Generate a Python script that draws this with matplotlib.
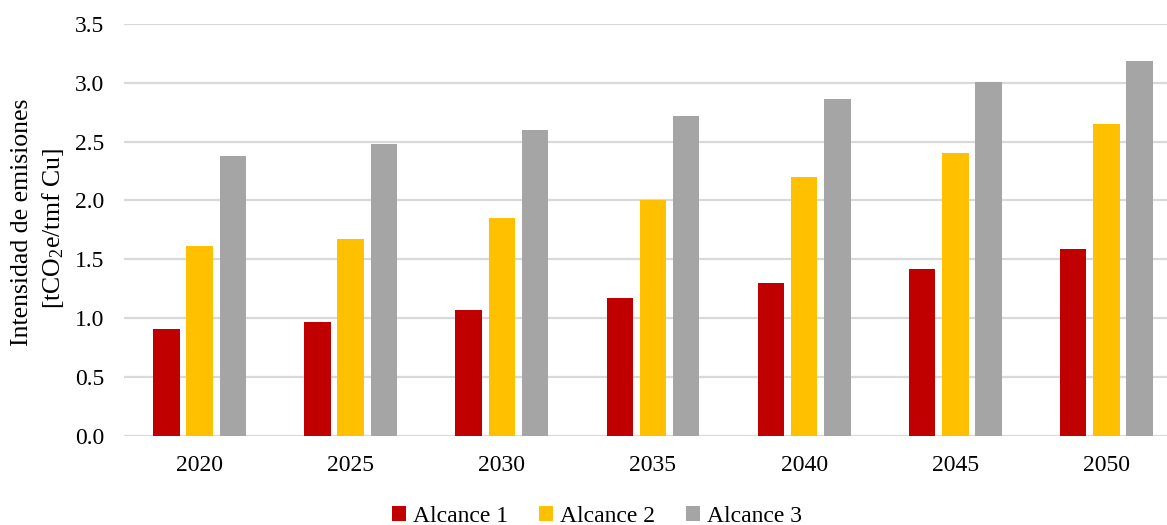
import numpy as np
import matplotlib.pyplot as plt

# emission intensity by scope, tCO2e per tonne of fine copper
years = ["2020", "2025", "2030", "2035", "2040", "2045", "2050"]
alcance_1 = [0.91, 0.97, 1.07, 1.17, 1.30, 1.42, 1.59]
alcance_2 = [1.61, 1.67, 1.85, 2.00, 2.20, 2.40, 2.65]
alcance_3 = [2.38, 2.48, 2.60, 2.72, 2.86, 3.01, 3.18]

series = [("Alcance 1", alcance_1, "#c00000"),
          ("Alcance 2", alcance_2, "#ffc000"),
          ("Alcance 3", alcance_3, "#a5a5a5")]

plt.rcParams["font.family"] = ["Liberation Serif", "DejaVu Serif"]
plt.rcParams["mathtext.fontset"] = "custom"
plt.rcParams["mathtext.rm"] = "Liberation Serif"
plt.rcParams["mathtext.it"] = "Liberation Serif:italic"

W, H = 1167, 525
fig = plt.figure(figsize=(W / 100, H / 100), dpi=100)
# plot area runs slightly past the right edge of the figure
ax = fig.add_axes([124 / W, 1 - 436 / H, 1058 / W, (436 - 23.8) / H])

x = np.arange(len(years))
bw = 0.175
step = 0.22
for k, (name, vals, col) in enumerate(series):
    ax.bar(x + (k - 1) * step, vals, width=bw, color=col, label=name, zorder=3)

ax.set_xlim(-0.5, len(years) - 0.5)
ax.set_ylim(0, 3.5)
ax.set_yticks(np.arange(0, 3.51, 0.5))
ax.set_yticklabels([f"{v:.1f}" for v in np.arange(0, 3.51, 0.5)])
ax.set_xticks(x)
ax.set_xticklabels(years)
ax.tick_params(axis="both", length=0, labelsize=17)
ax.tick_params(axis="y", pad=14)
ax.tick_params(axis="x", pad=14)
ax.grid(axis="y", color="#d9d9d9", linewidth=1.6, zorder=0)
for s in ax.spines.values():
    s.set_visible(False)

fig.text(22 / W, 1 - 222 / H, "Intensidad de emisiones", rotation=90,
         ha="center", va="center", fontsize=18.5)
fig.text(53 / W, 1 - 229 / H, "[tCO$_2$e/tmf Cu]", rotation=90,
         ha="center", va="center", fontsize=18.5)

fig.legend(loc="center", bbox_to_anchor=(597 / W, 1 - 516 / H), ncol=3,
           frameon=False, fontsize=17, handlelength=0.6, handleheight=0.6,
           handletextpad=0.3, columnspacing=1.3)

fig.savefig("out.png", dpi=100)
